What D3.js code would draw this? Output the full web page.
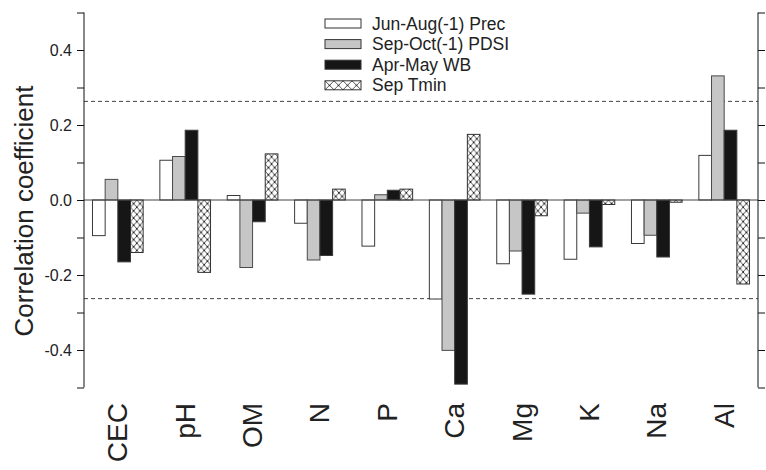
<!DOCTYPE html>
<html>
<head>
<meta charset="utf-8">
<script src="https://cdn.jsdelivr.net/npm/d3@7"></script>
<style>
  html, body { margin: 0; padding: 0; background: #fff; }
  svg { display: block; font-family: "Liberation Sans", Arial, Helvetica, sans-serif; }
</style>
</head>
<body>
<svg id="chart" width="766" height="470"></svg>
<script>
// Soil properties on the x axis
const categories = ["CEC", "pH", "OM", "N", "P", "Ca", "Mg", "K", "Na", "Al"];

// Climate variables (one bar per soil property in each group)
const seriesNames = ["Jun-Aug(-1) Prec", "Sep-Oct(-1) PDSI", "Apr-May WB", "Sep Tmin"];

// Correlation coefficients, one array per climate variable
const precJunAug = [-0.095, 0.106, 0.012, -0.062, -0.123, -0.264, -0.170, -0.158, -0.116, 0.119];
const pdsiSepOct = [0.055, 0.116, -0.180, -0.160, 0.014, -0.401, -0.136, -0.035, -0.094, 0.331];
const wbAprMay   = [-0.165, 0.186, -0.058, -0.148, 0.026, -0.491, -0.251, -0.125, -0.152, 0.186];
const tminSep    = [-0.140, -0.193, 0.123, 0.029, 0.029, 0.175, -0.042, -0.012, -0.006, -0.224];

// Significance threshold (dashed lines)
const significance = 0.263;

// Y axis ticks
const labelTicks = [0.4, 0.2, 0.0, -0.2, -0.4];
const allTicks = [0.5, 0.4, 0.3, 0.2, 0.1, 0.0, -0.1, -0.2, -0.3, -0.4, -0.5];

const seriesValues = [precJunAug, pdsiSepOct, wbAprMay, tminSep];
const seriesFill = ["#ffffff", "#c6c6c6", "#161616", "url(#hatch)"];
const seriesStroke = ["#3a3a3a", "#4a4a4a", "#3a3a3a", "#333333"];

const svg = d3.select("#chart");
const plotLeft = 84, plotRight = 758, plotTop = 12.5, plotBottom = 387.5;

const y = d3.scaleLinear().domain([-0.5, 0.5]).range([plotBottom, plotTop]);
const x = d3.scaleBand().domain(categories).range([plotLeft, plotRight])
  .paddingInner(0.248).paddingOuter(0.126);
const xs = d3.scaleBand().domain(d3.range(seriesNames.length)).range([0, x.bandwidth()]);

// Cross-hatch patterns
const defs = svg.append("defs");
function makeHatch(id, w, h) {
  const p = defs.append("pattern").attr("id", id)
    .attr("patternUnits", "userSpaceOnUse")
    .attr("width", w).attr("height", h);
  p.append("rect").attr("width", w).attr("height", h).attr("fill", "#fff");
  p.append("path").attr("d", `M0,0L${w},${h}M${w},0L0,${h}`)
    .attr("stroke", "#2a2a2a").attr("stroke-width", 0.8).attr("fill", "none");
  [[0, 0], [w, 0], [0, h], [w, h], [w / 2, h / 2]].forEach(([cx, cy]) => {
    p.append("circle").attr("cx", cx).attr("cy", cy).attr("r", 0.8).attr("fill", "#111");
  });
}
makeHatch("hatch", xs.bandwidth() / 2, 7.2);
makeHatch("hatchLegend", 9, 9);

// Significance lines
svg.append("g").selectAll("line").data([significance, -significance]).join("line")
  .attr("x1", plotLeft).attr("x2", plotRight)
  .attr("y1", d => y(d)).attr("y2", d => y(d))
  .attr("stroke", "#444").attr("stroke-width", 1).attr("stroke-dasharray", "4,3");

// Bars
const groups = svg.append("g").selectAll("g").data(categories).join("g")
  .attr("transform", c => `translate(${x(c)},0)`);

groups.each(function (c, ci) {
  const g = d3.select(this);
  seriesValues.forEach((vals, si) => {
    const v = vals[ci];
    const y0 = y(0), y1 = y(v);
    g.append("g")
      .attr("transform", `translate(${xs(si)},${y0})`)
      .append("rect")
      .attr("x", 0)
      .attr("y", Math.min(y1, y0) - y0)
      .attr("width", xs.bandwidth())
      .attr("height", Math.abs(y1 - y0))
      .attr("fill", seriesFill[si])
      .attr("stroke", seriesStroke[si])
      .attr("stroke-width", 1);
  });
});

// Zero line
svg.append("line")
  .attr("x1", plotLeft).attr("x2", plotRight).attr("y1", y(0)).attr("y2", y(0))
  .attr("stroke", "#444").attr("stroke-width", 1);

// Left axis
const yAxisL = d3.axisLeft(y).tickValues(allTicks).tickSize(7).tickPadding(5)
  .tickFormat(d => labelTicks.some(t => Math.abs(t - d) < 1e-9) ? d3.format(".1f")(d).replace("−", "-") : "");
const gL = svg.append("g").attr("transform", `translate(${plotLeft},0)`).call(yAxisL);
gL.select(".domain").attr("d", `M0,${plotTop}V${plotBottom}`).attr("stroke", "#111");
gL.selectAll(".tick line").attr("stroke", "#111");
gL.selectAll(".tick text").attr("font-size", 16).attr("fill", "#222")
  .attr("font-family", "Liberation Sans, Arial, sans-serif");

// Right axis
const yAxisR = d3.axisRight(y).tickValues(allTicks).tickSize(7).tickFormat("");
const gR = svg.append("g").attr("transform", `translate(${plotRight},0)`).call(yAxisR);
gR.select(".domain").attr("d", `M0,${plotTop}V${plotBottom}`).attr("stroke", "#111");
gR.selectAll(".tick line").attr("stroke", "#111");

// Y axis title
svg.append("text")
  .attr("transform", `translate(33,211) rotate(-90)`)
  .attr("text-anchor", "middle")
  .attr("font-size", 26).attr("fill", "#222")
  .text("Correlation coefficient");

// Category labels
svg.append("g").selectAll("text").data(categories).join("text")
  .attr("transform", c => `translate(${x(c) + x.bandwidth() / 2},403) rotate(-90)`)
  .attr("text-anchor", "end")
  .attr("dominant-baseline", "central")
  .attr("font-size", 28).attr("fill", "#222")
  .text(c => c);

// Legend
const legendFill = ["#ffffff", "#c6c6c6", "#161616", "url(#hatchLegend)"];
const lg = svg.append("g").selectAll("g").data(seriesNames).join("g")
  .attr("transform", (d, i) => `translate(325,${19 + i * 20.6})`);
lg.each(function (d, i) {
  const g = d3.select(this);
  g.append("g").append("rect").attr("width", 36).attr("height", 9)
    .attr("fill", legendFill[i]).attr("stroke", "#333").attr("stroke-width", 1);
});
lg.append("text").attr("x", 47).attr("y", 4.5).attr("dy", "0.35em")
  .attr("font-size", 17.5).attr("fill", "#222").text(d => d);
</script>
</body>
</html>
